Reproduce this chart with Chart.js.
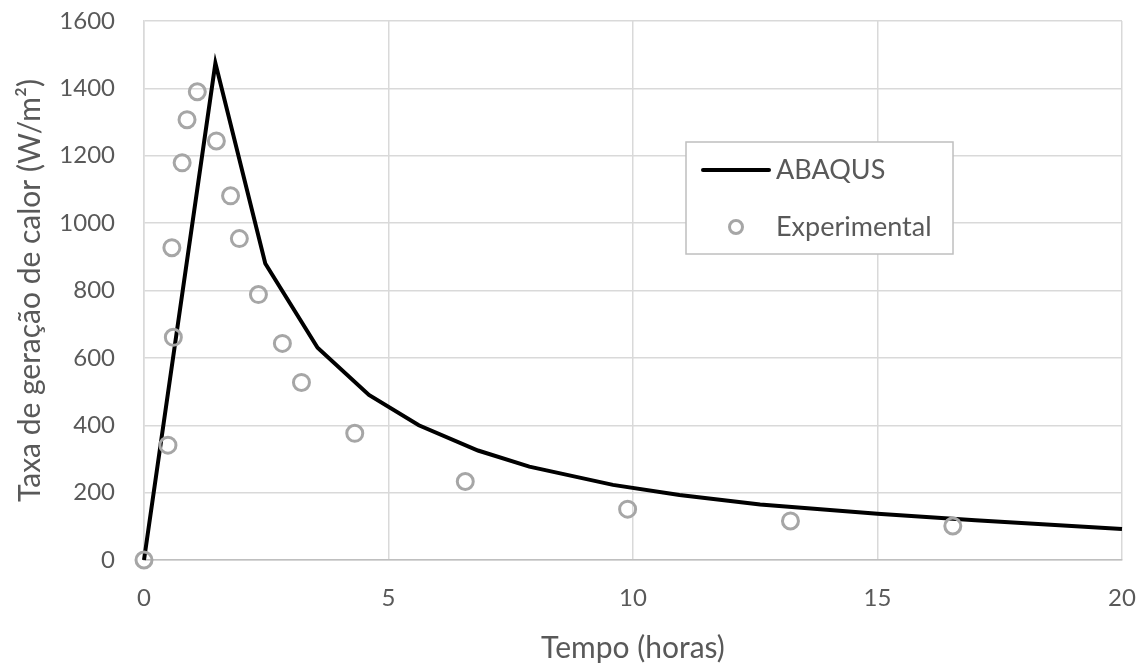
<!DOCTYPE html>
<html>
<head>
<meta charset="utf-8">
<script src="https://cdn.jsdelivr.net/npm/chart.js@4/dist/chart.umd.min.js"></script>
<style>
  html, body { margin: 0; padding: 0; background: #fff; }
  #wrap { width: 1147px; height: 670px; position: relative; }
</style>
</head>
<body>
<div id="wrap"><canvas id="chart"></canvas></div>
<script>
// -----------------------------
// DATA
// -----------------------------
const abaqusX = [0, 1.46, 2.48, 3.55, 4.6, 5.62, 6.83, 7.88, 9.59, 10.95, 12.6, 15, 17, 20];
const abaqusY = [0, 1475, 880, 630, 490, 400, 325, 277, 223, 193, 165, 137, 118, 92];

const expX = [0, 0.49, 0.6, 0.57, 0.78, 0.88, 1.09, 1.48, 1.77, 1.95, 2.34, 2.83, 3.22, 4.31, 6.57, 9.89, 13.22, 16.54];
const expY = [0, 341, 661, 927, 1179, 1307, 1390, 1244, 1081, 954, 788, 643, 527, 376, 233, 151, 116, 101];

const xTicks = [0, 5, 10, 15, 20];
const yTicks = [0, 200, 400, 600, 800, 1000, 1200, 1400, 1600];

const seriesNames = ["ABAQUS", "Experimental"];
const xTitle = "Tempo (horas)";
const yTitle = "Taxa de geração de calor (W/m²)";

const toPoints = (xs, ys) => xs.map((x, i) => ({ x: x, y: ys[i] }));

const FONT = "Lato, 'Open Sans', sans-serif";
const TEXT = "#595959";
const GRID = "#d9d9d9";

// zero out the label overflow padding so layout.padding decides the plot edges
function noOverflow(s) {
  s.paddingTop = 0;
  s.paddingBottom = 0;
  s.paddingLeft = 0;
  s.paddingRight = 0;
}

// -----------------------------
// LEGEND BOX (drawn inside the plot)
// -----------------------------
const boxLegend = {
  id: "boxLegend",
  afterDraw(chart) {
    const ctx = chart.ctx;
    const ds = chart.data.datasets;
    const bx = 686, by = 142, bw = 267, bh = 112;
    ctx.save();
    ctx.fillStyle = "#fff";
    ctx.fillRect(bx, by, bw, bh);
    ctx.strokeStyle = "#bfbfbf";
    ctx.lineWidth = 1.5;
    ctx.strokeRect(bx, by, bw, bh);

    // line sample
    ctx.strokeStyle = ds[0].borderColor;
    ctx.lineWidth = ds[0].borderWidth;
    ctx.lineCap = "round";
    ctx.beginPath();
    ctx.moveTo(703, 170);
    ctx.lineTo(769, 170);
    ctx.stroke();

    // marker sample
    ctx.strokeStyle = ds[1].borderColor;
    ctx.lineWidth = ds[1].borderWidth;
    ctx.beginPath();
    ctx.arc(736, 227, ds[1].pointRadius - 1.5, 0, Math.PI * 2);
    ctx.stroke();

    ctx.fillStyle = TEXT;
    ctx.font = "27px " + FONT;
    ctx.textBaseline = "middle";
    ctx.fillText(ds[0].label, 776, 170);
    ctx.fillText(ds[1].label, 776, 227);
    ctx.restore();
  }
};

// -----------------------------
// CHART
// -----------------------------
new Chart(document.getElementById("chart"), {
  type: "scatter",
  data: {
    datasets: [
      {
        label: seriesNames[0],
        data: toPoints(abaqusX, abaqusY),
        showLine: true,
        borderColor: "#000",
        borderWidth: 4,
        pointRadius: 0,
        tension: 0,
        fill: false,
        order: 1
      },
      {
        label: seriesNames[1],
        data: toPoints(expX, expY),
        showLine: false,
        borderColor: "#a6a6a6",
        backgroundColor: "rgba(255,255,255,0)",
        borderWidth: 3,
        pointRadius: 8,
        pointStyle: "circle",
        order: 0
      }
    ]
  },
  options: {
    responsive: true,
    maintainAspectRatio: false,
    animation: false,
    clip: false,
    layout: { autoPadding: false, padding: { top: 21, right: 25, left: 0, bottom: 0 } },
    plugins: {
      legend: { display: false },
      tooltip: { enabled: false }
    },
    scales: {
      x: {
        type: "linear",
        min: 0,
        max: 20,
        afterBuildTicks: (s) => { s.ticks = xTicks.map(v => ({ value: v })); },
        afterFit: (s) => { s.height = 110; noOverflow(s); },
        grid: { color: GRID, lineWidth: 1.5, drawTicks: false },
        border: { color: "#bfbfbf", width: 1.5 },
        ticks: {
          color: TEXT,
          font: { family: FONT, size: 24 },
          padding: 24,
          callback: (v) => String(v)
        },
        title: {
          display: true,
          text: xTitle,
          color: TEXT,
          font: { family: FONT, size: 30 },
          padding: { top: 0, bottom: 4 }
        }
      },
      y: {
        type: "linear",
        min: 0,
        max: 1600,
        afterBuildTicks: (s) => { s.ticks = yTicks.map(v => ({ value: v })); },
        afterFit: (s) => { s.width = 144; noOverflow(s); },
        grid: { color: GRID, lineWidth: 1.5, drawTicks: false },
        border: { color: GRID, width: 1.5 },
        ticks: {
          color: TEXT,
          font: { family: FONT, size: 24 },
          padding: 29,
          callback: (v) => String(v)
        },
        title: {
          display: true,
          text: yTitle,
          color: TEXT,
          font: { family: FONT, size: 30 },
          padding: { top: 12, bottom: 0 }
        }
      }
    }
  },
  plugins: [boxLegend]
});
</script>
</body>
</html>
